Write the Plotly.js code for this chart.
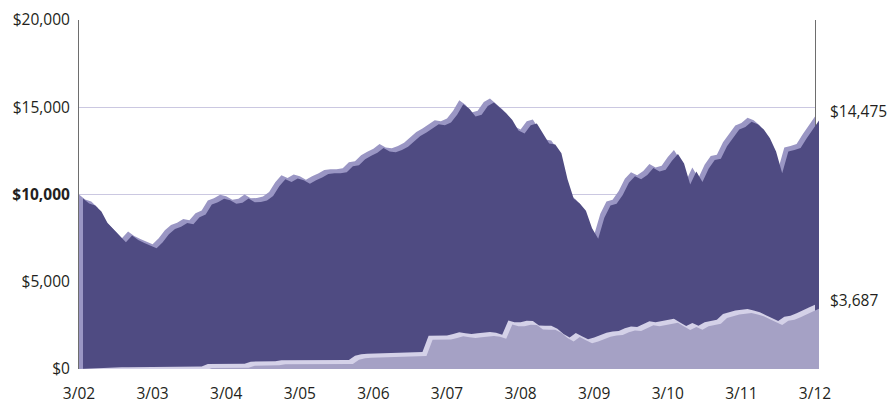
<!DOCTYPE html>
<html><head><meta charset="utf-8">
<script src="https://cdn.plot.ly/plotly-3.0.1.min.js"></script>
<style>html,body{margin:0;padding:0;background:#fff}</style>
</head><body><div id="chart" style="width:888px;height:403px"></div>
<script>
// Monthly values, 3/02 .. 3/12 (121 points)
const fundValues = [
10000,9720,9600,9250,8600,8220,7900,7500,7880,7620,7450,7300,
7150,7500,7950,8250,8380,8590,8520,8920,9080,9650,9790,9980,
9900,9700,9750,10000,9780,9800,9890,10150,10700,11100,10950,11150,
11050,10840,11050,11200,11400,11450,11450,11500,11850,11900,12250,12450,
12620,12900,12700,12650,12780,12970,13250,13580,13780,14000,14250,14200,
14350,14800,15400,15150,14700,14800,15300,15500,15200,14880,14500,13900,
13720,14200,14300,13700,13150,13100,12600,11100,10000,9720,9300,8300,
7700,8900,9600,9700,10200,10900,11280,11100,11350,11750,11550,11650,
12150,12550,12000,10800,11550,10950,11700,12200,12280,13000,13500,13950,
14100,14400,14250,13950,13450,12700,11450,12700,12780,12900,13450,14000,
14475];
const incomeValues = [
0,20,40,55,70,80,90,100,105,110,115,120,
125,125,130,130,135,135,140,140,145,280,290,290,
295,295,300,300,420,425,430,430,440,500,505,505,
505,510,510,510,510,515,515,515,520,760,840,870,
880,890,900,905,910,920,930,940,980,1900,1900,1900,
1920,2000,2100,2050,2000,2050,2080,2120,2080,1960,2780,2680,
2680,2770,2750,2500,2480,2480,2300,2000,1800,2060,1880,1700,
1800,1960,2080,2150,2180,2330,2440,2400,2550,2730,2680,2750,
2830,2880,2670,2460,2630,2480,2680,2760,2820,3150,3250,3350,
3400,3440,3350,3250,3080,2920,2750,3000,3050,3200,3380,3520,
3687];
const xTickLabels = ['3/02','3/03','3/04','3/05','3/06','3/07','3/08','3/09','3/10','3/11','3/12'];
const yTickValues = [0,5000,10000,15000,20000];
const yTickLabels = ['$0','$5,000','<b>$10,000</b>','$15,000','$20,000'];

const monthIdx = fundValues.map((_, i) => i);
const xTickVals = xTickLabels.map((_, i) => i * 12);
const lastIdx = monthIdx[monthIdx.length - 1];

// geometry for the "3D" offset of front faces
const W = 741, Wmain = 736, H = 349, OFF = 4;
const pxPerMonth = Wmain / lastIdx;
const yMax = 20000;
const dx = OFF / pxPerMonth;
const dy = OFF * yMax / H;
const x2range = [-dx, -dx + W / pxPerMonth];
const y2range = [dy, yMax + dy];

const FONT = {family: 'Open Sans, sans-serif', size: 15.5, color: '#231F20'};

function area(y, xa, ya, color) {
  return {x: monthIdx, y: y, xaxis: xa, yaxis: ya, type: 'scatter', mode: 'lines',
    fill: 'tozeroy', fillcolor: color, line: {width: 0, color: color}, hoverinfo: 'skip', showlegend: false};
}

const traces = [
  area(fundValues, 'x', 'y', '#9A96C4'),
  area(fundValues, 'x2', 'y2', '#4F4B82'),
  area(incomeValues, 'x3', 'y3', '#D4D1E8'),
  area(incomeValues, 'x4', 'y4', '#A5A1C5')
];

const hidden = {visible: false, showgrid: false, zeroline: false, showline: false, showticklabels: false, fixedrange: true};

const fmt = v => '$' + v.toLocaleString('en-US');

const layout = {
  width: 888, height: 403,
  margin: {l: 79, r: 888 - 79 - W, t: 20, b: 34},
  paper_bgcolor: '#fff', plot_bgcolor: 'rgba(0,0,0,0)',
  font: FONT,
  showlegend: false,
  xaxis: {domain: [0, Wmain / W], range: [0, lastIdx], anchor: 'y',
    tickvals: xTickVals, ticktext: xTickLabels, ticks: '', showgrid: false, zeroline: false,
    showline: false, tickfont: FONT, ticklabelstandoff: 13, fixedrange: true},
  yaxis: {domain: [0, 1], range: [0, yMax], anchor: 'x',
    tickvals: yTickValues, ticktext: yTickLabels, ticks: '', showgrid: true, gridcolor: '#CBC8E1', gridwidth: 1,
    zeroline: false, showline: true, linecolor: '#6E6E6E', linewidth: 1, mirror: true, layer: 'below traces',
    tickfont: FONT, ticklabelstandoff: 5, fixedrange: true},
  xaxis2: Object.assign({domain: [0, 1], range: x2range, anchor: 'y2'}, hidden),
  yaxis2: Object.assign({domain: [0, 1], range: y2range, anchor: 'x2'}, hidden),
  xaxis3: Object.assign({domain: [0, Wmain / W], range: [0, lastIdx], anchor: 'y3'}, hidden),
  yaxis3: Object.assign({domain: [0, 1], range: [0, yMax], anchor: 'x3'}, hidden),
  xaxis4: Object.assign({domain: [0, 1], range: x2range, anchor: 'y4'}, hidden),
  yaxis4: Object.assign({domain: [0, 1], range: y2range, anchor: 'x4'}, hidden),
  shapes: [{type: 'line', xref: 'x domain', yref: 'y', x0: 0, x1: 1,
    y0: fundValues[0], y1: fundValues[0], line: {color: '#9B97C8', width: 1}, layer: 'below'}],
  annotations: [
    {xref: 'x', yref: 'y', x: lastIdx, y: fundValues[lastIdx], text: fmt(fundValues[lastIdx]),
      showarrow: false, xanchor: 'left', yanchor: 'middle', xshift: 13, yshift: 5, font: FONT},
    {xref: 'x', yref: 'y', x: lastIdx, y: incomeValues[lastIdx], text: fmt(incomeValues[lastIdx]),
      showarrow: false, xanchor: 'left', yanchor: 'middle', xshift: 13, yshift: 5, font: FONT}
  ]
};

Plotly.newPlot('chart', traces, layout, {displayModeBar: false, staticPlot: true});
</script>
</body></html>
